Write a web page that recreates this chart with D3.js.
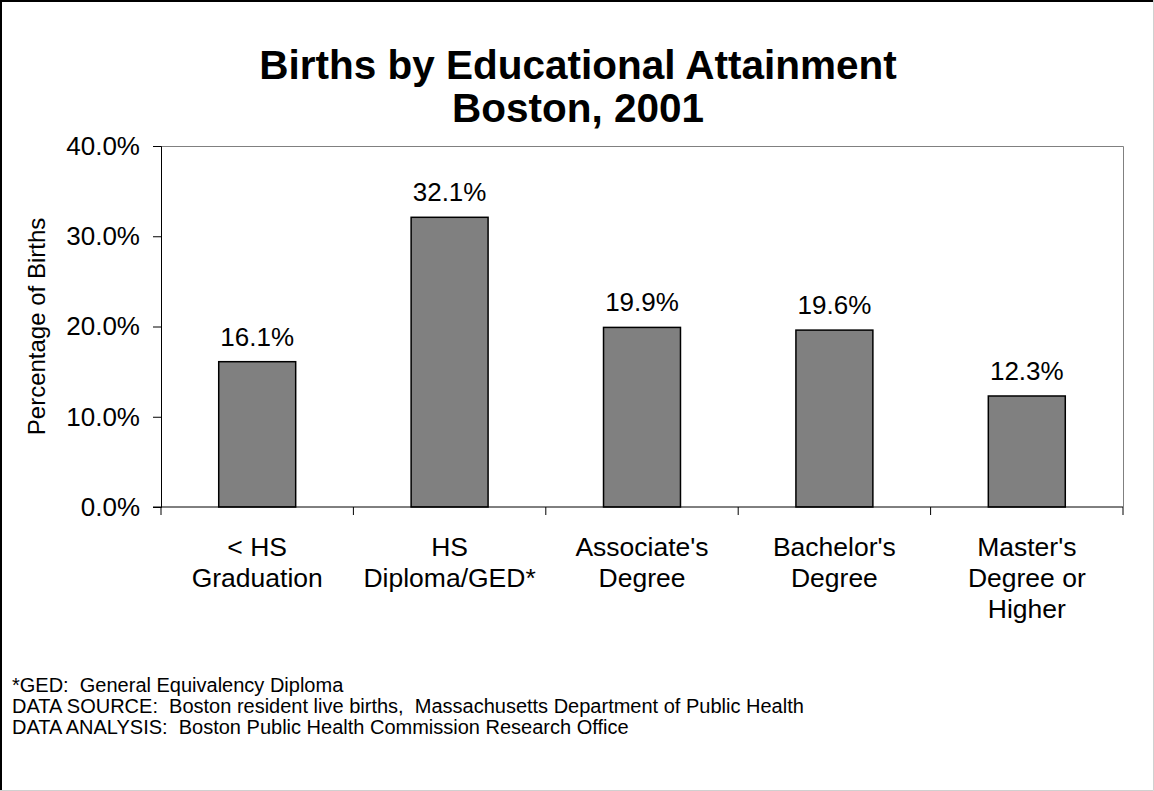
<!DOCTYPE html>
<html>
<head>
<meta charset="utf-8">
<script src="https://cdn.jsdelivr.net/npm/d3@7"></script>
<style>
  body { margin: 0; background: #fff; }
  text { font-family: "Liberation Sans", Arial, sans-serif; fill: #000; }
</style>
</head>
<body>
<div id="chart"></div>
<script>
const categories = [
  ["< HS", "Graduation"],
  ["HS", "Diploma/GED*"],
  ["Associate's", "Degree"],
  ["Bachelor's", "Degree"],
  ["Master's", "Degree or", "Higher"]
];
const values = [16.1, 32.1, 19.9, 19.6, 12.3];
const yTicks = [0, 10, 20, 30, 40];
const titleLines = ["Births by Educational Attainment", "Boston, 2001"];
const footnotes = [
  "*GED:  General Equivalency Diploma",
  "DATA SOURCE:  Boston resident live births,  Massachusetts Department of Public Health",
  "DATA ANALYSIS:  Boston Public Health Commission Research Office"
];

function buildChart() {
  const width = 1154;
  const height = 791;
  const margin = { top: 146, right: 31, bottom: 284, left: 161 };

  const svg = d3.select("#chart")
    .append("svg")
    .attr("width", width)
    .attr("height", height);

  // outer border
  svg.append("rect")
    .attr("x", 0).attr("y", 0)
    .attr("width", width).attr("height", height)
    .attr("fill", "#fff");
  svg.append("path")
    .attr("d", `M1,${height} V1 H${width}`)
    .attr("fill", "none")
    .attr("stroke", "#000")
    .attr("stroke-width", 2);
  svg.append("path")
    .attr("d", `M0,${height - 0.5} H${width - 0.5} V0`)
    .attr("fill", "none")
    .attr("stroke", "#d0d0d0")
    .attr("stroke-width", 1);

  const keys = categories.map((d, i) => i);

  const xScale = d3.scaleBand()
    .domain(keys)
    .range([margin.left, width - margin.right])
    .padding(0);

  const yScale = d3.scaleLinear()
    .domain([0, 40])
    .range([height - margin.bottom, margin.top]);

  // plot frame (top/right in grey)
  svg.append("path")
    .attr("d", `M${margin.left},${margin.top + 0.5} H${width - margin.right + 0.5} V${height - margin.bottom}`)
    .attr("fill", "none")
    .attr("stroke", "#808080");

  const barW = xScale.bandwidth() * 0.4;

  svg.selectAll("rect.bar")
    .data(values)
    .join("rect")
    .attr("class", "bar")
    .attr("x", (d, i) => xScale(i) + (xScale.bandwidth() - barW) / 2)
    .attr("y", d => yScale(d))
    .attr("width", barW)
    .attr("height", d => yScale(0) - yScale(d))
    .attr("fill", "#808080")
    .attr("stroke", "#000")
    .attr("stroke-width", 1.5);

  svg.selectAll("text.val")
    .data(values)
    .join("text")
    .attr("class", "val")
    .attr("x", (d, i) => xScale(i) + xScale.bandwidth() / 2)
    .attr("y", d => yScale(d) - 16)
    .attr("text-anchor", "middle")
    .style("font-size", "26px")
    .text(d => d.toFixed(1) + "%");

  // y axis
  const yAxis = g =>
    g.attr("transform", `translate(${margin.left},0)`)
      .call(d3.axisLeft(yScale).tickValues(yTicks).tickSize(8).tickPadding(13)
        .tickFormat(d => d.toFixed(1) + "%"))
      .call(g => g.selectAll("text").style("font-size", "26px").attr("fill", "#000"))
      .call(g => g.selectAll("line, path").attr("stroke", "#000"));
  svg.append("g").call(yAxis);

  // x axis: ticks at band boundaries
  const xAxisG = svg.append("g")
    .attr("transform", `translate(0,${yScale(0)})`);
  xAxisG.append("line")
    .attr("x1", margin.left - 8).attr("x2", width - margin.right)
    .attr("stroke", "#000");
  const bounds = keys.map(k => xScale(k)).concat([width - margin.right]);
  xAxisG.selectAll("line.tick")
    .data(bounds)
    .join("line")
    .attr("class", "tick")
    .attr("x1", d => d).attr("x2", d => d)
    .attr("y1", 0).attr("y2", 8)
    .attr("stroke", "#000");

  const labels = xAxisG.selectAll("text")
    .data(categories)
    .join("text")
    .attr("text-anchor", "middle")
    .style("font-size", "26.5px")
    .attr("transform", (d, i) => `translate(${xScale(i) + xScale.bandwidth() / 2},49)`);
  labels.selectAll("tspan")
    .data(d => d)
    .join("tspan")
    .attr("x", 0)
    .attr("y", (d, i) => i * 31)
    .text(d => d);

  // y axis title
  svg.append("text")
    .attr("transform", `translate(45,${(yScale(0) + yScale(40)) / 2}) rotate(-90)`)
    .attr("text-anchor", "middle")
    .style("font-size", "24px")
    .text("Percentage of Births");

  // title
  svg.append("g")
    .selectAll("text")
    .data(titleLines)
    .join("text")
    .attr("x", 578)
    .attr("y", (d, i) => 79 + i * 43)
    .attr("text-anchor", "middle")
    .style("font-size", "40.5px")
    .style("font-weight", "bold")
    .text(d => d);

  // footnotes
  svg.append("g")
    .selectAll("text")
    .data(footnotes)
    .join("text")
    .attr("x", 12)
    .attr("y", (d, i) => 692 + i * 21)
    .style("font-size", "20px")
    .style("white-space", "pre")
    .attr("xml:space", "preserve")
    .text(d => d);
}

buildChart();
</script>
</body>
</html>
